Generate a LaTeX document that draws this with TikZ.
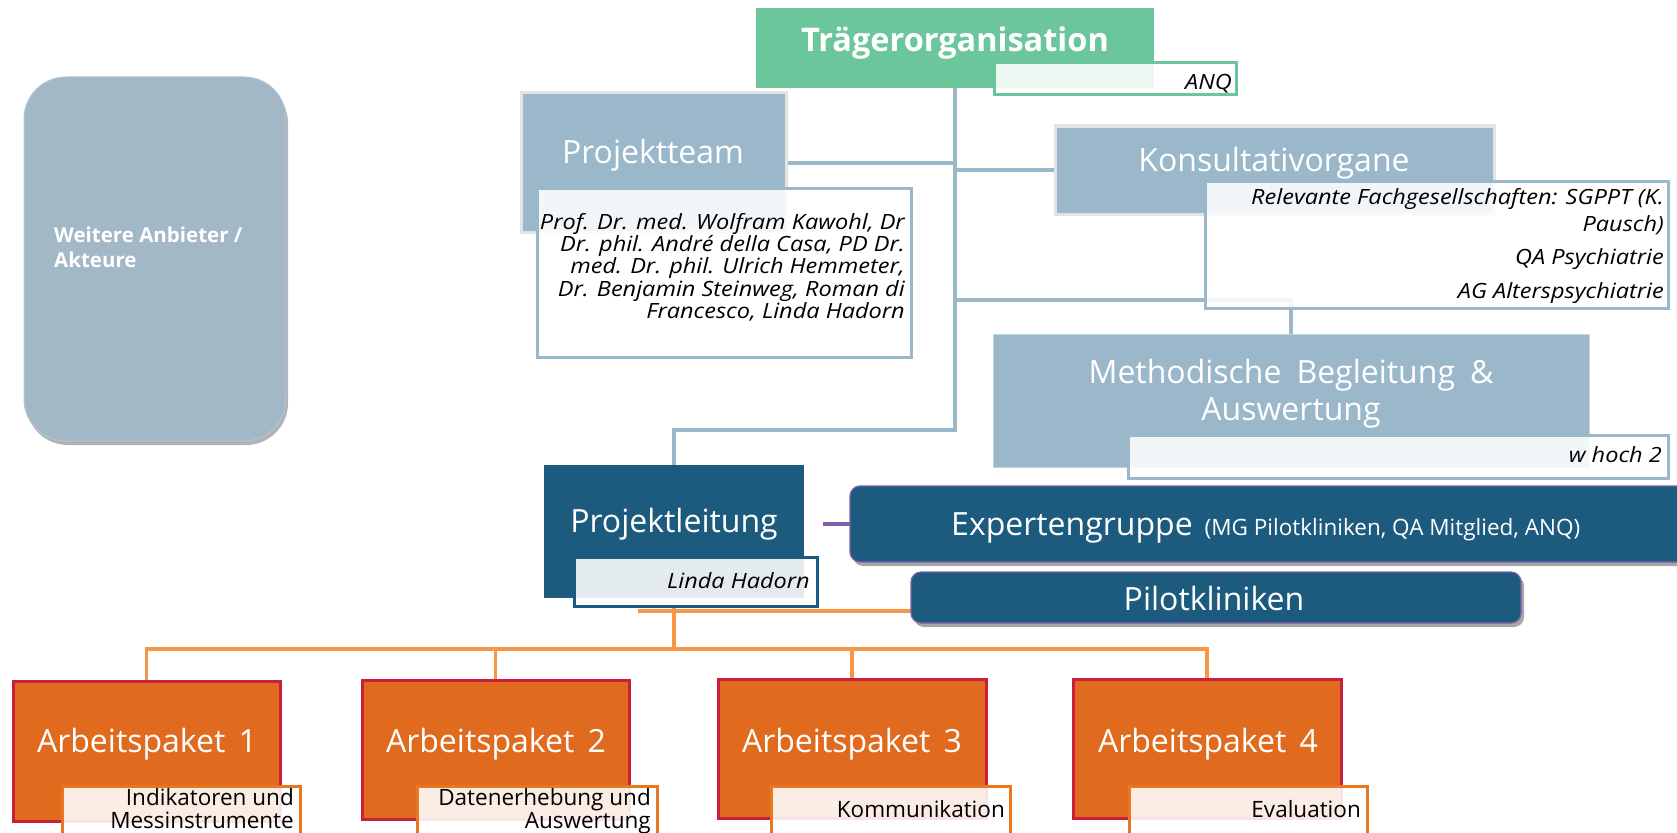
\documentclass[tikz,border=0pt]{standalone}
\usepackage{fontspec}
\setmainfont{Open Sans}
\newfontfamily\detailfont{Open Sans}[FakeStretch=1.12]
\usetikzlibrary{shadows,backgrounds}
\definecolor{tgreen}{HTML}{6CC69C}
\definecolor{bgray}{HTML}{9BB8CA}
\definecolor{wgray}{HTML}{A2B8C6}
\definecolor{lgray}{HTML}{E3E3E3}
\definecolor{dblue}{HTML}{1D5B7E}
\definecolor{purp}{HTML}{7E5FA8}
\definecolor{aporange}{HTML}{E06B1F}
\definecolor{apred}{HTML}{C8203C}
\definecolor{lorange}{HTML}{F79646}
\definecolor{dorange}{HTML}{E87722}
\tikzset{
  box/.style={rectangle, anchor=north west, inner sep=0pt, outer sep=0pt},
  greenbox/.style={box, fill=tgreen},
  graybox/.style={box, fill=bgray, draw=lgray, line width=3pt},
  methbox/.style={box, fill=bgray, draw=bgray!60!white, line width=1pt},
  bluebox/.style={box, fill=dblue},
  roundblue/.style={box, fill=dblue, draw=purp, line width=1.2pt, rounded corners=10pt,
     drop shadow={shadow xshift=3pt, shadow yshift=-4pt, opacity=.35, fill=black}},
  apbox/.style={box, fill=aporange, draw=apred, line width=3pt},
  detail/.style={box, fill=white, fill opacity=0.88, line width=3pt},
  ttext/.style={text=white, inner sep=0pt, font=\fontsize{32}{38}\selectfont},
  dtext/.style={text=black, inner sep=0pt, font=\detailfont\fontsize{21}{24}\selectfont\itshape},
  rtext/.style={text=black, inner sep=0pt, font=\fontsize{22.5}{23}\selectfont},
  blueline/.style={draw=bgray, line width=4pt},
  orline/.style={draw=lorange, line width=3.5pt},
  purpline/.style={draw=purp, line width=3.5pt},
}
\begin{document}
\begin{tikzpicture}[x=1pt,y=-1pt]
\useasboundingbox (0,0) rectangle (1677,832);
\clip (0,0) rectangle (1677,832);

% Weitere
\node[box, fill=wgray, draw=bgray!80!white, line width=1pt, rounded corners=42pt,
  drop shadow={shadow xshift=2pt, shadow yshift=-4pt, opacity=.3, fill=black},
  minimum width=262pt, minimum height=364pt] (weitere) at (24,77) {};
\node[anchor=base west, inner sep=0pt, text=white, font=\fontsize{20.5}{25}\selectfont\bfseries] (weitereT) at (54,242)
  {\begin{tabular}[t]{@{}l@{}}Weitere Anbieter /\\Akteure\end{tabular}};

% Traegerorganisation
\node[greenbox, minimum width=398pt, minimum height=80pt] (traeger) at (756,8) {};
\node[ttext, font=\fontsize{32.5}{38}\selectfont\bfseries, anchor=base] (traegerT) at (955,52) {Trägerorganisation};
\node[detail, draw=tgreen, minimum width=242pt, minimum height=32pt] (anq) at (994,63) {};
\node[dtext, anchor=base east] (anqT) at (1232,90) {ANQ};

% Projektteam
\node[graybox, minimum width=265pt, minimum height=139pt] (projteam) at (521,93) {};
\node[ttext, anchor=base] (projteamT) at (653,163) {Projektteam};
\node[detail, draw=bgray, minimum width=374pt, minimum height=169pt] (projteamD) at (537,188) {};
\node[dtext, font=\detailfont\fontsize{21}{21.4}\selectfont\itshape, anchor=base east] (projteamDT) at (905,229)
  {\begin{tabular}[t]{@{}r@{}}Prof. Dr. med. Wolfram Kawohl, Dr\\Dr. phil. André della Casa, PD Dr.\\med. Dr. phil. Ulrich Hemmeter,\\Dr. Benjamin Steinweg, Roman di\\Francesco, Linda Hadorn\end{tabular}};

% Konsultativorgane
\node[graybox, minimum width=439pt, minimum height=88pt] (konsult) at (1055,126) {};
\node[ttext, anchor=base] (konsultT) at (1274,171) {Konsultativorgane};
\node[detail, draw=bgray, minimum width=463pt, minimum height=127pt] (konsultD) at (1205,181) {};
\node[dtext, font=\detailfont\fontsize{21}{27}\selectfont\itshape, anchor=base east] (konsultD1) at (1664,204)
  {\begin{tabular}[t]{@{}r@{}}Relevante Fachgesellschaften: SGPPT (K.\\Pausch)\end{tabular}};
\node[dtext, anchor=base east] (konsultD2) at (1664,264) {QA Psychiatrie};
\node[dtext, anchor=base east] (konsultD3) at (1664,298) {AG Alterspsychiatrie};

% Methodische Begleitung
\node[methbox, minimum width=596pt, minimum height=133pt] (method) at (993,334) {};
\node[ttext, font=\fontsize{32}{37}\selectfont, anchor=base] (methodT) at (1291,383)
  {\spaceskip=15pt\begin{tabular}[t]{@{}c@{}}Methodische Begleitung \&\\Auswertung\end{tabular}};
\node[detail, draw=bgray, minimum width=540pt, minimum height=43pt] (methodD) at (1128,435) {};
\node[dtext, anchor=base east] (methodDT) at (1662,462) {w hoch 2};

% Projektleitung
\node[bluebox, minimum width=260pt, minimum height=133pt] (projl) at (544,465) {};
\node[ttext, anchor=base] (projlT) at (674,532) {Projektleitung};
\node[detail, draw=dblue, minimum width=243pt, minimum height=49pt] (projlD) at (574,557) {};
\node[dtext, anchor=base east] (projlDT) at (810,588) {Linda Hadorn};

% Expertengruppe, Pilotkliniken
\node[roundblue, minimum width=850pt, minimum height=76pt] (experten) at (850,486) {};
\node[ttext, anchor=base west] (expertenT) at (951,535)
  {Expertengruppe\hspace{12pt}{\fontsize{22.5}{26}\selectfont(MG Pilotkliniken, QA Mitglied, ANQ)}};
\node[roundblue, minimum width=610pt, minimum height=51pt] (pilot) at (911,572) {};
\node[ttext, anchor=base] (pilotT) at (1214,610) {Pilotkliniken};

% Arbeitspakete
\node[apbox, minimum width=267pt, minimum height=140pt] (ap1) at (13,681) {};
\node[apbox, minimum width=267pt, minimum height=139pt] (ap2) at (362,680) {};
\node[apbox, minimum width=268pt, minimum height=139pt] (ap3) at (718,679) {};
\node[apbox, minimum width=268pt, minimum height=139pt] (ap4) at (1073,679) {};
\node[ttext, anchor=base] (ap1T) at (147,752) {Arbeitspaket\hspace{5pt} 1};
\node[ttext, anchor=base] (ap2T) at (496,752) {Arbeitspaket\hspace{5pt} 2};
\node[ttext, anchor=base] (ap3T) at (852,752) {Arbeitspaket\hspace{5pt} 3};
\node[ttext, anchor=base] (ap4T) at (1208,752) {Arbeitspaket\hspace{5pt} 4};
\node[detail, draw=dorange, minimum width=238pt, minimum height=60pt] (ap1D) at (62,786) {};
\node[detail, draw=dorange, minimum width=240pt, minimum height=60pt] (ap2D) at (417,786) {};
\node[detail, draw=dorange, minimum width=239pt, minimum height=60pt] (ap3D) at (771,786) {};
\node[detail, draw=dorange, minimum width=238pt, minimum height=60pt] (ap4D) at (1129,786) {};
\node[rtext, anchor=base east] (ap1DT) at (294,805)
  {\begin{tabular}[t]{@{}r@{}}Indikatoren und\\Messinstrumente\end{tabular}};
\node[rtext, anchor=base east] (ap2DT) at (651,805)
  {\begin{tabular}[t]{@{}r@{}}Datenerhebung und\\Auswertung\end{tabular}};
\node[rtext, anchor=base east] (ap3DT) at (1005,817) {Kommunikation};
\node[rtext, anchor=base east] (ap4DT) at (1361,817) {Evaluation};

% connectors
\coordinate (j1) at (955,300);
\coordinate (j2) at (955,430);
\coordinate (j3) at (674,649);
\coordinate (pe) at (823,524);
\coordinate (po) at (638,611);
\begin{scope}[on background layer]
\draw[blueline] (traeger.south) -- (j2) -| (projl.north);
\draw[blueline] (projteam.east) -- (projteam.east -| traeger.south);
\draw[blueline] (konsult.west -| traeger.south) -- (konsult.west);
\draw[blueline] (j1) -| (method.north);
\draw[purpline] (pe) -- (experten.west);
\draw[orline] (projlD.south -| projl.south) -- (j3);
\draw[orline] (ap1.north) |- (j3) -| (ap4.north);
\draw[orline] (ap2.north) -- (ap2.north |- j3);
\draw[orline] (ap3.north) -- (ap3.north |- j3);
\draw[orline] (po) -- (po -| pilot.west);
\end{scope}
\end{tikzpicture}
\end{document}
